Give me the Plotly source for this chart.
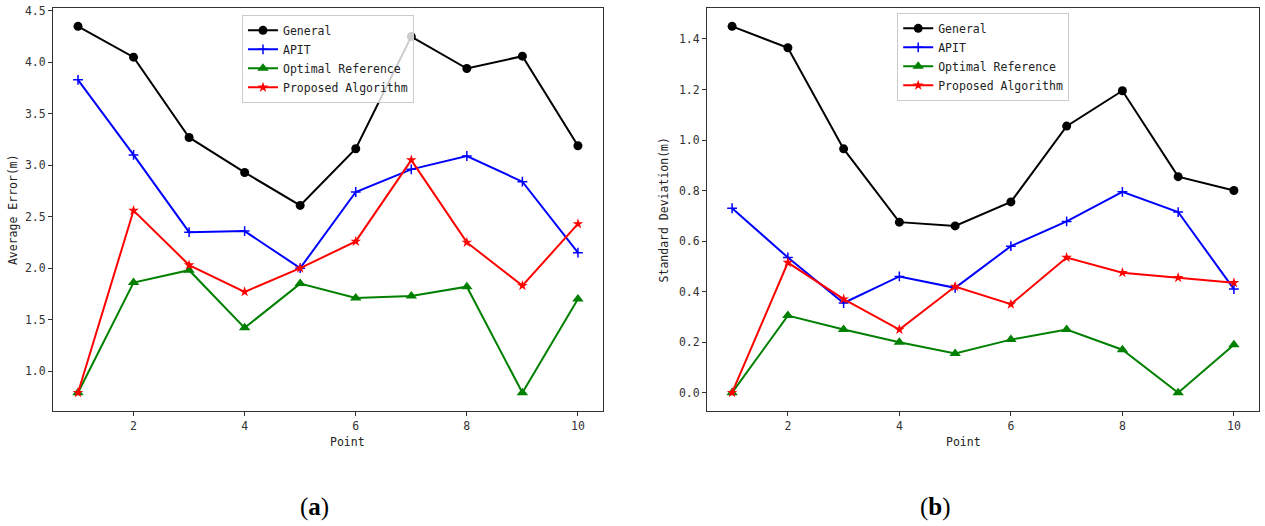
import plotly.graph_objects as go
from plotly.subplots import make_subplots

points = list(range(1, 11))

# (a) Average Error (m)
err_general = [4.35, 4.05, 3.27, 2.93, 2.61, 3.16, 4.25, 3.94, 4.06, 3.19]
err_apit = [3.83, 3.10, 2.35, 2.36, 2.00, 2.74, 2.96, 3.09, 2.84, 2.15]
err_optimal = [0.79, 1.86, 1.98, 1.42, 1.85, 1.71, 1.73, 1.82, 0.79, 1.70]
err_proposed = [0.79, 2.56, 2.03, 1.77, 2.00, 2.26, 3.05, 2.25, 1.83, 2.43]

# (b) Standard Deviation (m)
std_general = [1.45, 1.365, 0.965, 0.675, 0.66, 0.755, 1.055, 1.195, 0.855, 0.80]
std_apit = [0.73, 0.535, 0.355, 0.46, 0.415, 0.58, 0.678, 0.795, 0.715, 0.41]
std_optimal = [0.0, 0.305, 0.25, 0.20, 0.155, 0.21, 0.25, 0.17, 0.0, 0.19]
std_proposed = [0.0, 0.515, 0.37, 0.25, 0.42, 0.35, 0.535, 0.475, 0.455, 0.435]

series_names = ["General", "APIT", "Optimal Reference", "Proposed Algorithm"]

FONT = "DejaVu Sans Mono"
AXIS_COLOR = "#333333"

styles = [
    dict(color="black", symbol="circle", size=9, mline=0),
    dict(color="#0000ff", symbol="cross-thin", size=7, mline=1.5),
    dict(color="#008000", symbol="triangle-up", size=10, mline=0),
    dict(color="#ff0000", symbol="star", size=8, mline=0),
]

fig = make_subplots(rows=1, cols=2)

panels = [
    (1, "legend", [err_general, err_apit, err_optimal, err_proposed]),
    (2, "legend2", [std_general, std_apit, std_optimal, std_proposed]),
]

for col, leg, data in panels:
    for name, ys, st in zip(series_names, data, styles):
        fig.add_trace(
            go.Scatter(
                x=points,
                y=ys,
                name=name,
                mode="lines+markers",
                line=dict(color=st["color"], width=2),
                marker=dict(
                    symbol=st["symbol"],
                    size=st["size"],
                    color=st["color"],
                    line=dict(color=st["color"], width=st["mline"]),
                ),
                legend=leg,
            ),
            row=1,
            col=col,
        )

axis_common = dict(
    showline=True,
    linecolor=AXIS_COLOR,
    linewidth=1,
    mirror=True,
    ticks="outside",
    ticklen=4,
    tickcolor=AXIS_COLOR,
    showgrid=False,
    zeroline=False,
    automargin=False,
    tickfont=dict(family=FONT, size=11.5, color=AXIS_COLOR),
)

fig.update_xaxes(
    **axis_common,
    tickvals=[2, 4, 6, 8, 10],
    range=[0.55, 10.45],
)
fig.update_xaxes(domain=[0, 0.456], row=1, col=1)
fig.update_xaxes(domain=[0.5423, 1], row=1, col=2)

fig.update_yaxes(
    **axis_common,
    range=[0.612, 4.528],
    tickvals=[1.0, 1.5, 2.0, 2.5, 3.0, 3.5, 4.0, 4.5],
    tickformat=".1f",
    row=1,
    col=1,
)
fig.update_yaxes(
    **axis_common,
    range=[-0.0725, 1.5225],
    tickvals=[0.0, 0.2, 0.4, 0.6, 0.8, 1.0, 1.2, 1.4],
    tickformat=".1f",
    row=1,
    col=2,
)

legend_common = dict(
    bgcolor="rgba(255,255,255,0.8)",
    bordercolor="#cccccc",
    borderwidth=1,
    font=dict(family=FONT, size=11.5, color="#222222"),
    xanchor="left",
    yanchor="top",
    tracegroupgap=0,
    itemwidth=30,
)

text_font = dict(family=FONT, size=11.5, color="#222222")

annotations = [
    dict(text="Point", x=0.228, y=-0.077, xref="paper", yref="paper",
         showarrow=False, font=text_font, yanchor="middle"),
    dict(text="Point", x=0.771, y=-0.077, xref="paper", yref="paper",
         showarrow=False, font=text_font, yanchor="middle"),
    dict(text="Average Error(m)", x=-0.0335, y=0.5, xref="paper", yref="paper",
         showarrow=False, font=text_font, textangle=-90,
         xanchor="center", yanchor="middle"),
    dict(text="Standard Deviation(m)", x=0.5066, y=0.5, xref="paper", yref="paper",
         showarrow=False, font=text_font, textangle=-90,
         xanchor="center", yanchor="middle"),
    dict(text="(<b>a</b>)", x=0.2032, y=-0.238, xref="paper", yref="paper",
         showarrow=False, yanchor="middle",
         font=dict(family="Liberation Serif", size=25, color="black")),
    dict(text="(<b>b</b>)", x=0.7463, y=-0.238, xref="paper", yref="paper",
         showarrow=False, yanchor="middle",
         font=dict(family="Liberation Serif", size=25, color="black")),
]

fig.update_layout(
    width=1265,
    height=526,
    margin=dict(l=53, r=6, t=8, b=115),
    paper_bgcolor="white",
    plot_bgcolor="white",
    showlegend=True,
    legend=dict(**legend_common, x=0.1567, y=0.983),
    legend2=dict(**legend_common, x=0.70, y=0.988),
    annotations=annotations,
)

# drop the default 8px body margin so the figure fills the window exactly
fig.write_html(
    "out.html",
    config={"displayModeBar": False},
    post_script="document.body.style.margin='0';",
)
